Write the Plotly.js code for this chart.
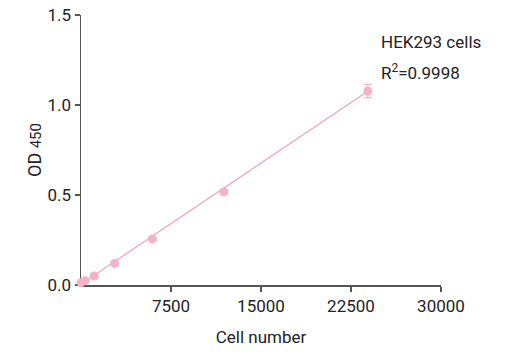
<!DOCTYPE html>
<html>
<head>
<meta charset="utf-8">
<script src="https://cdn.plot.ly/plotly-3.0.1.min.js"></script>
<style>html,body{margin:0;padding:0;background:#fff;}#chart{width:531px;height:352px;}</style>
</head>
<body>
<div id="chart"></div>
<script>
const cellNumbers = [0, 350, 1100, 2800, 5950, 11900, 23900];
const od450 = [0.013, 0.024, 0.05, 0.12, 0.256, 0.517, 1.078];
const od450Err = [0.008, 0.008, 0.008, 0.01, 0.01, 0.012, 0.037];
const fitX = [0, 23900];
const fitY = [0.005, 1.076];
const xTickVals = [7500, 15000, 22500, 30000];
const yTickVals = [0, 0.5, 1.0, 1.5];
const labelLines = ["HEK293 cells", "R<sup>2</sup>=0.9998"];

const pink = "#f3b2c5";
const lineCol = "#eba3b7";
const axisCol = "#555555";
const textCol = "#222222";
const font = "Roboto, 'Noto Sans', sans-serif";

const traces = [
  {x: fitX, y: fitY, mode: "lines", line: {color: lineCol, width: 1.2}, hoverinfo: "skip", cliponaxis: false},
  {x: cellNumbers, y: od450, mode: "markers", cliponaxis: false,
   marker: {color: pink, size: 9, line: {width: 0}},
   error_y: {type: "data", array: od450Err, visible: true, color: pink, thickness: 1.2, width: 4}}
];

const layout = {
  width: 531, height: 352,
  margin: {l: 81, r: 90, t: 15, b: 67},
  paper_bgcolor: "#fff", plot_bgcolor: "#fff",
  showlegend: false,
  font: {family: font, color: textCol, size: 17},
  xaxis: {
    range: [0, 30000], tickvals: xTickVals, ticktext: xTickVals.map(String),
    showgrid: false, zeroline: false, showline: true, linecolor: axisCol, linewidth: 1.5,
    ticks: "outside", ticklen: 5, tickcolor: axisCol, tickwidth: 1.2, layer: "below traces",
    tickfont: {size: 17, color: textCol},
    title: {text: "Cell number", font: {size: 17, color: textCol}, standoff: 16}
  },
  yaxis: {
    range: [0, 1.5], tickvals: yTickVals, tickformat: ".1f",
    showgrid: false, zeroline: false, showline: true, linecolor: axisCol, linewidth: 1.5,
    ticks: "outside", ticklen: 5, tickcolor: axisCol, tickwidth: 1.2, layer: "below traces",
    tickfont: {size: 17, color: textCol},
    title: {text: "OD <span style='font-size:15px'>450</span>", font: {size: 18, color: textCol}, standoff: 1}
  },
  annotations: [
    {xref: "paper", yref: "paper", x: 0.829, y: 0.9, xanchor: "left", yanchor: "middle",
     text: labelLines[0], showarrow: false, font: {size: 17, color: textCol}},
    {xref: "paper", yref: "paper", x: 0.829, y: 0.79, xanchor: "left", yanchor: "middle",
     text: labelLines[1], showarrow: false, font: {size: 17, color: textCol}}
  ]
};

Plotly.newPlot("chart", traces, layout, {displayModeBar: false, staticPlot: true});
</script>
</body>
</html>
